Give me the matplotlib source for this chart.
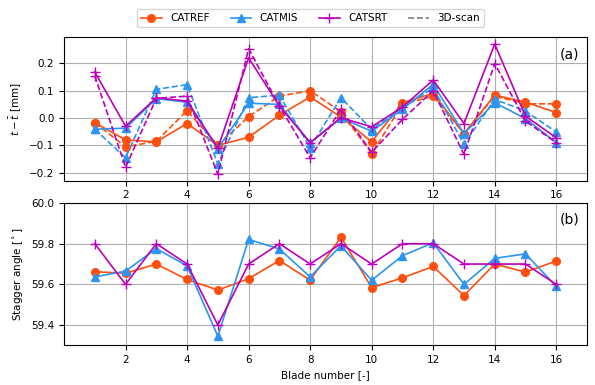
import matplotlib
matplotlib.use("Agg")
import matplotlib.pyplot as plt
from matplotlib.lines import Line2D

blades = list(range(1, 17))

# thickness deviation t - t_bar [mm], solid = model, dashed = 3D-scan
catref_t = [-0.017, -0.080, -0.087, -0.020, -0.100, -0.070, 0.010, 0.077,
            0.004, -0.087, 0.056, 0.090, -0.057, 0.084, 0.058, 0.020]
catref_t_scan = [-0.017, -0.105, -0.085, 0.027, -0.100, 0.005, 0.080, 0.100,
                 0.023, -0.130, 0.050, 0.080, -0.057, 0.080, 0.052, 0.052]
catmis_t = [-0.041, -0.037, 0.071, 0.058, -0.112, 0.054, 0.050, -0.090,
            0.000, -0.048, 0.032, 0.123, -0.057, 0.056, -0.002, -0.090]
catmis_t_scan = [-0.041, -0.145, 0.105, 0.122, -0.167, 0.074, 0.084, -0.108,
                 0.074, -0.041, 0.037, 0.110, -0.096, 0.068, 0.026, -0.051]
catsrt_t = [0.168, -0.030, 0.074, 0.062, -0.110, 0.220, 0.044, -0.090,
            0.001, -0.032, 0.040, 0.139, -0.020, 0.270, 0.007, -0.072]
catsrt_t_scan = [0.154, -0.180, 0.072, 0.080, -0.205, 0.253, 0.044, -0.145,
                 0.032, -0.125, -0.005, 0.100, -0.133, 0.199, -0.011, -0.090]

# stagger angle [deg]
catref_stagger = [59.662, 59.655, 59.700, 59.624, 59.572, 59.628, 59.717, 59.621,
                  59.832, 59.584, 59.632, 59.688, 59.545, 59.700, 59.660, 59.715]
catmis_stagger = [59.637, 59.665, 59.776, 59.691, 59.345, 59.821, 59.774, 59.637,
                  59.790, 59.620, 59.741, 59.805, 59.600, 59.728, 59.750, 59.590]
catsrt_stagger = [59.8, 59.6, 59.8, 59.7, 59.4, 59.7, 59.8, 59.7,
                  59.8, 59.7, 59.8, 59.8, 59.7, 59.7, 59.7, 59.6]

c_ref = '#ff4f0f'
c_mis = '#2b95f0'
c_srt = '#bb00bb'

plt.rcParams['font.size'] = 7.5

fig = plt.figure(figsize=(5.95, 3.85), dpi=100)
ax1 = fig.add_axes([0.1076, 0.5306, 0.8790, 0.3732])
ax2 = fig.add_axes([0.1076, 0.1039, 0.8790, 0.3688])

styles = [(c_ref, 'o', 5.5), (c_mis, '^', 5.5), (c_srt, '+', 6.5)]
model = [catref_t, catmis_t, catsrt_t]
scan = [catref_t_scan, catmis_t_scan, catsrt_t_scan]
for (col, mk, ms), y, ys in zip(styles, model, scan):
    ax1.plot(blades, ys, '--', color=col, marker=mk, ms=ms, lw=1.2)
    ax1.plot(blades, y, '-', color=col, marker=mk, ms=ms, lw=1.2)

for (col, mk, ms), y in zip(styles, [catref_stagger, catmis_stagger, catsrt_stagger]):
    ax2.plot(blades, y, '-', color=col, marker=mk, ms=ms, lw=1.2)

ax1.set_ylim(-0.229, 0.296)
ax2.set_ylim(59.302, 60.0)
for ax in (ax1, ax2):
    ax.set_xlim(0, 17)
    ax.set_xticks(range(2, 17, 2))
    ax.grid(True, color='#b0b0b0', lw=0.8)
    ax.set_axisbelow(True)

ax1.set_yticks([-0.2, -0.1, 0.0, 0.1, 0.2])
ax2.set_yticks([59.4, 59.6, 59.8, 60.0])
ax1.set_ylabel(r'$t-\bar{t}$ [mm]')
ax2.set_ylabel(r'Stagger angle [$^\circ$]')
ax2.set_xlabel('Blade number [-]')

ax1.text(0.985, 0.93, '(a)', transform=ax1.transAxes, ha='right', va='top', fontsize=10)
ax2.text(0.985, 0.93, '(b)', transform=ax2.transAxes, ha='right', va='top', fontsize=10)

handles = [
    Line2D([], [], color=c_ref, marker='o', ms=5.5, lw=1.2, label='CATREF'),
    Line2D([], [], color=c_mis, marker='^', ms=5.5, lw=1.2, label='CATMIS'),
    Line2D([], [], color=c_srt, marker='+', ms=6.5, lw=1.2, label='CATSRT'),
    Line2D([], [], color='gray', ls='--', lw=1.2, label='3D-scan'),
]
fig.legend(handles=handles, loc='upper center', bbox_to_anchor=(0.522, 0.99),
           ncol=4, fontsize=7.5, columnspacing=2.0)

fig.savefig('out.png', dpi=100)
